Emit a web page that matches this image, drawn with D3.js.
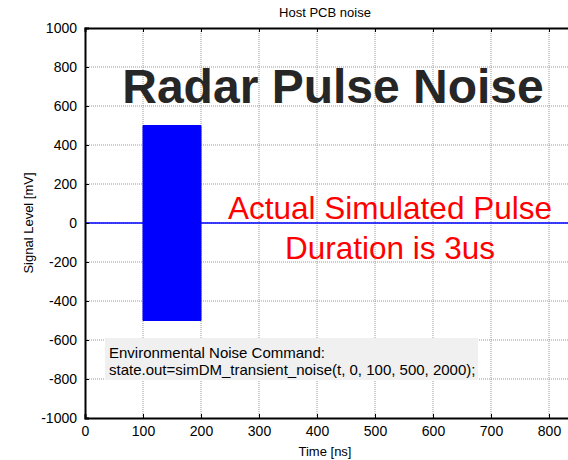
<!DOCTYPE html>
<html>
<head>
<meta charset="utf-8">
<script src="https://cdn.jsdelivr.net/npm/d3@7"></script>
<style>
  body { margin: 0; background: #fff; }
  text { font-family: "Liberation Sans", Arial, sans-serif; }
</style>
</head>
<body>
<div id="chart"></div>
<script>
// values
const xTicks = [0, 100, 200, 300, 400, 500, 600, 700, 800];
const yTicks = [-1000, -800, -600, -400, -200, 0, 200, 400, 600, 800, 1000];
// envelope of the simulated pulse (dense oscillation shows as solid block)
const envTime = [0, 100, 100, 200, 200, 1000];
const envUpper = [0, 0, 500, 500, 0, 0];
const envLower = [0, 0, -500, -500, 0, 0];
const noteLines = ["Environmental Noise Command:", "state.out=simDM_transient_noise(t, 0, 100, 500, 2000);"];
const redLines = ["Actual Simulated Pulse", "Duration is 3us"];

const width = 568, height = 460;
const margin = { left: 85, top: 28, bottom: 42 };
const plotRight = 665; // axes run past the cropped edge

const svg = d3.select("#chart").append("svg")
  .attr("width", width).attr("height", height);

svg.append("rect").attr("width", width).attr("height", height).attr("fill", "#fff");

const x = d3.scaleLinear().domain([0, 1000]).range([margin.left, plotRight]);
const y = d3.scaleLinear().domain([-1000, 1000]).range([height - margin.bottom, margin.top]);

// grid (dotted, MATLAB style)
svg.append("g").selectAll("line").data(x.ticks(10).filter(d => d > 0)).join("line")
  .attr("x1", d => x(d)).attr("x2", d => x(d))
  .attr("y1", y(-1000)).attr("y2", y(1000))
  .attr("stroke", "#999").attr("stroke-width", 1).attr("stroke-dasharray", "1,1");
svg.append("g").selectAll("line").data(yTicks.filter(d => d > -1000 && d < 1000)).join("line")
  .attr("x1", x(0)).attr("x2", plotRight)
  .attr("y1", d => y(d)).attr("y2", d => y(d))
  .attr("stroke", "#999").attr("stroke-width", 1).attr("stroke-dasharray", "1,1");

// signal
const area = d3.area()
  .x((d, i) => x(envTime[i]))
  .y0((d, i) => y(envLower[i]))
  .y1((d, i) => y(envUpper[i]));
svg.append("path").datum(envTime).attr("d", area).attr("fill", "#0000ff");
const lineUp = d3.line().x((d, i) => x(envTime[i])).y((d, i) => y(envUpper[i]));
const lineLo = d3.line().x((d, i) => x(envTime[i])).y((d, i) => y(envLower[i]));
svg.append("path").datum(envTime).attr("d", lineUp).attr("fill", "none").attr("stroke", "#0000ff").attr("stroke-width", 1);
svg.append("path").datum(envTime).attr("d", lineLo).attr("fill", "none").attr("stroke", "#0000ff").attr("stroke-width", 1);

// axes
const fmt = d => String(d); // plain hyphen minus like the original
const xAxis = svg.append("g").attr("transform", `translate(0,${y(-1000)})`)
  .call(d3.axisBottom(x).tickValues(xTicks).tickSize(-4).tickPadding(10).tickFormat(fmt));
const xTop = svg.append("g").attr("transform", `translate(0,${y(1000)})`)
  .call(d3.axisTop(x).tickValues(xTicks).tickSize(-4).tickFormat(""));
const yAxis = svg.append("g").attr("transform", `translate(${x(0)},0)`)
  .call(d3.axisLeft(y).tickValues(yTicks).tickSize(-4).tickPadding(8).tickFormat(fmt));

[xAxis, xTop, yAxis].forEach(g => {
  g.select(".domain").attr("stroke", "#000").attr("stroke-width", 2);
  g.selectAll(".tick line").attr("stroke", "#000");
  g.selectAll("text").attr("font-size", 14).attr("fill", "#000")
    .attr("font-family", "Liberation Sans, Arial, sans-serif");
});
xAxis.selectAll("text").attr("dy", "0.6em");

// titles
svg.append("text").attr("x", 325).attr("y", 17).attr("text-anchor", "middle")
  .attr("font-size", 13).text("Host PCB noise");
svg.append("text").attr("x", 325).attr("y", 456).attr("text-anchor", "middle")
  .attr("font-size", 13).text("Time [ns]");
svg.append("text").attr("transform", `translate(33,${y(0)}) rotate(-90)`)
  .attr("text-anchor", "middle").attr("font-size", 13).text("Signal Level [mV]");

// big annotation
svg.append("text").attr("x", 333).attr("y", 103).attr("text-anchor", "middle")
  .attr("font-size", 48).attr("font-weight", "bold").attr("fill", "#262626")
  .text("Radar Pulse Noise");

svg.append("g").selectAll("text").data(redLines).join("text")
  .attr("x", 390).attr("y", (d, i) => 219 + i * 40)
  .attr("text-anchor", "middle").attr("font-size", 31.5).attr("fill", "#ff0000")
  .text(d => d);

// command box
svg.append("rect").attr("x", 105).attr("y", 338).attr("width", 373).attr("height", 42)
  .attr("fill", "#f0f0f0");
svg.append("g").selectAll("text").data(noteLines).join("text")
  .attr("x", 109).attr("y", (d, i) => 358 + i * 17)
  .attr("font-size", 15).attr("fill", "#000")
  .text(d => d);
</script>
</body>
</html>
